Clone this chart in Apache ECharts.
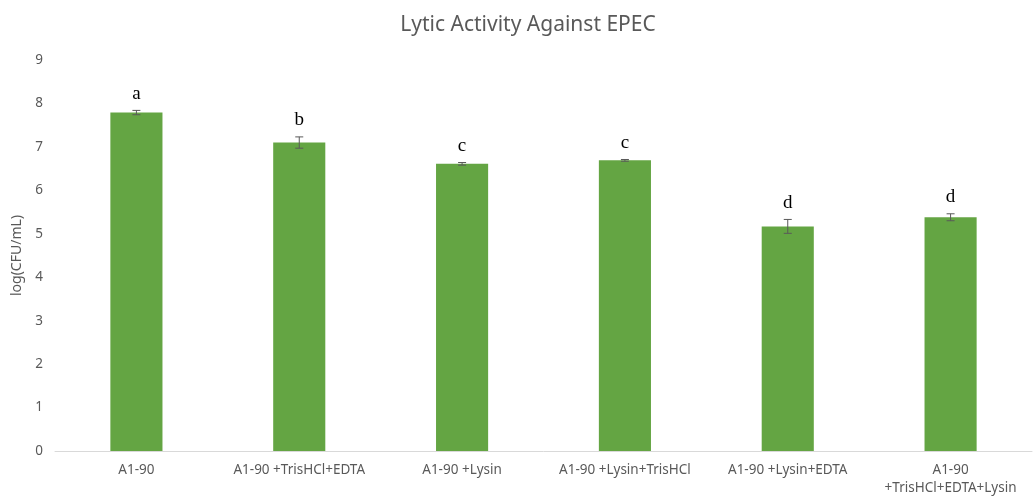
<!DOCTYPE html>
<html>
<head>
<meta charset="utf-8">
<script src="https://cdn.jsdelivr.net/npm/echarts@6/dist/echarts.min.js"></script>
<style>
  html, body { margin: 0; padding: 0; background: #fff; }
  #chart { width: 1035px; height: 497px; }
</style>
</head>
<body>
<div id="chart"></div>
<script>
// 数据
var categories = ['A1-90', 'A1-90 +TrisHCl+EDTA', 'A1-90 +Lysin', 'A1-90 +Lysin+TrisHCl', 'A1-90 +Lysin+EDTA', 'A1-90\n+TrisHCl+EDTA+Lysin'];
var means = [7.79, 7.1, 6.61, 6.69, 5.17, 5.38];
var errors = [0.05, 0.13, 0.03, 0.02, 0.16, 0.08];
var letters = ['a', 'b', 'c', 'c', 'd', 'd'];

var textFont = '"Noto Sans", "Liberation Sans", sans-serif';

var errData = [];
for (var i = 0; i < means.length; i++) {
  errData.push([i, means[i] - errors[i], means[i] + errors[i], letters[i]]);
}

var myChart = echarts.init(document.getElementById('chart'));

var option = {
  animation: false,
  title: {
    text: 'Lytic Activity Against EPEC',
    left: 523,
    top: 10,
    textAlign: 'center',
    textStyle: { fontFamily: textFont, fontSize: 21, fontWeight: 'normal', color: '#595959' }
  },
  grid: { left: 55, right: 3, top: 60, bottom: 44, containLabel: false },
  xAxis: {
    type: 'category',
    data: categories,
    axisLine: { lineStyle: { color: '#d9d9d9', width: 1 } },
    axisTick: { show: false },
    axisLabel: { fontFamily: textFont, fontSize: 13.5, color: '#595959', margin: 10, lineHeight: 18, interval: 0 }
  },
  yAxis: {
    type: 'value',
    min: 0,
    max: 9,
    interval: 1,
    name: 'log(CFU/mL)',
    nameLocation: 'middle',
    nameGap: 30,
    nameTextStyle: { fontFamily: textFont, fontSize: 14, color: '#595959' },
    axisLine: { show: false },
    axisTick: { show: false },
    splitLine: { show: false },
    axisLabel: { fontFamily: textFont, fontSize: 13.5, color: '#595959', margin: 12 }
  },
  series: [
    {
      type: 'bar',
      data: means,
      barWidth: '32%',
      itemStyle: { color: '#64a543' }
    },
    {
      // 误差线和字母标注
      type: 'custom',
      data: errData,
      z: 10,
      renderItem: function(params, api) {
        var x = api.coord([api.value(0), 0])[0];
        var lo = api.coord([api.value(0), api.value(1)])[1];
        var hi = api.coord([api.value(0), api.value(2)])[1];
        var cap = 4;
        var style = { stroke: '#595959', lineWidth: 1 };
        return {
          type: 'group',
          children: [
            { type: 'line', shape: { x1: x, y1: lo, x2: x, y2: hi }, style: style },
            { type: 'line', shape: { x1: x - cap, y1: lo, x2: x + cap, y2: lo }, style: style },
            { type: 'line', shape: { x1: x - cap, y1: hi, x2: x + cap, y2: hi }, style: style },
            {
              type: 'text',
              x: x,
              y: hi - 7,
              style: {
                text: letters[params.dataIndex],
                textAlign: 'center',
                textVerticalAlign: 'bottom',
                fontFamily: '"Liberation Serif", "DejaVu Serif", serif',
                fontSize: 19,
                fill: '#000'
              }
            }
          ]
        };
      }
    }
  ]
};

myChart.setOption(option);
</script>
</body>
</html>
